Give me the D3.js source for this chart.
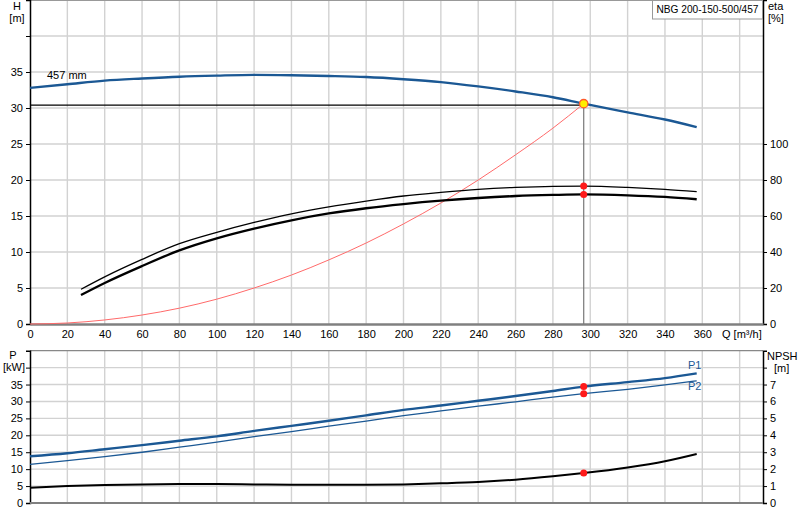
<!DOCTYPE html>
<html lang="en">
<head>
    <meta charset="UTF-8">
    <title>NBG 200-150-500/457</title>
    <script src="https://d3js.org/d3.v7.min.js"></script>
    <style>
        body{ margin:0; background:#fff; }
        text{ font-family: "Liberation Sans", Arial, sans-serif; font-size: 11px; fill:#000; }
        .grid line{ stroke:#d2d2d2; stroke-width:1.4; }
    </style>
</head>
<body>
<svg id="main" width="800" height="520"></svg>
<script>
    // pump curve data
    let qH = [0, 20, 40, 60, 80, 100, 120, 140, 160, 180, 200, 220, 240, 260, 280, 296.5, 320, 340, 357];
    let head = [32.8, 33.3, 33.8, 34.1, 34.35, 34.5, 34.6, 34.55, 34.45, 34.3, 34.0, 33.6, 33.0, 32.3, 31.5, 30.6, 29.4, 28.4, 27.35];

    let qSys = [0, 20, 40, 60, 80, 100, 120, 140, 160, 180, 200, 220, 240, 260, 280, 296.5];
    let sysHead = [0, 0.14, 0.56, 1.25, 2.2, 3.45, 5.0, 6.8, 8.9, 11.25, 13.9, 16.8, 20.0, 23.5, 27.2, 30.6];

    let qEta = [27.3, 40, 60, 80, 100, 120, 140, 160, 180, 200, 220, 240, 260, 280, 296.5, 320, 340, 357];
    let etaThin = [19.3, 26.2, 35.9, 44.6, 50.9, 56.4, 61.2, 65.1, 68.3, 71.1, 73.1, 74.8, 75.9, 76.5, 76.6, 75.9, 74.8, 73.5];
    let etaThick = [16.1, 22.8, 32.2, 40.9, 47.6, 53.0, 57.6, 61.4, 64.3, 66.6, 68.5, 70.0, 71.1, 71.7, 72.0, 71.5, 70.6, 69.3];

    let qLow = [0, 20, 40, 60, 80, 100, 120, 140, 160, 180, 200, 220, 240, 260, 280, 296.5, 320, 340, 357];
    let p1 = [13.8, 14.7, 15.9, 17.1, 18.4, 19.7, 21.3, 22.8, 24.3, 25.9, 27.5, 28.8, 30.2, 31.6, 33.1, 34.4, 35.7, 36.9, 38.3];
    let p2 = [11.4, 12.5, 13.7, 15.0, 16.5, 18.0, 19.6, 21.1, 22.7, 24.2, 25.8, 27.2, 28.6, 29.9, 31.3, 32.3, 33.6, 34.9, 36.1];
    let npsh = [0.9, 1.0, 1.06, 1.1, 1.12, 1.12, 1.1, 1.08, 1.08, 1.08, 1.1, 1.16, 1.24, 1.38, 1.58, 1.77, 2.1, 2.47, 2.9];

    let dutyQ = 296.5, dutyH = 30.6, dutyLineH = 30.4;
    let xTicks = d3.range(0, 361, 20);
    let hTicks = [0, 5, 10, 15, 20, 25, 30, 35];
    let etaTicks = [0, 20, 40, 60, 80, 100];
    let pTicks = [0, 5, 10, 15, 20, 25, 30, 35];
    let nTicks = [0, 1, 2, 3, 4, 5, 6, 7];

    let svg = d3.select('svg#main');
    let blue = '#1b5894';

    let x = d3.scaleLinear().domain([0, 392.5]).range([30, 763]);
    let yH = d3.scaleLinear().domain([0, 45]).range([324, 0]);
    let yEta = d3.scaleLinear().domain([0, 180]).range([324, 0]);
    let yP = d3.scaleLinear().domain([0, 45]).range([503, 350.7]);
    let yN = d3.scaleLinear().domain([0, 9]).range([503, 350.7]);

    // grids
    function grid(yScale, vals){
        let g = svg.append('g').attr('class', 'grid');
        g.selectAll('line.v').data(d3.range(20, 381, 20)).enter().append('line')
            .attr('x1', d => x(d)).attr('x2', d => x(d))
            .attr('y1', yScale.range()[0]).attr('y2', yScale.range()[1]);
        g.selectAll('line.h').data(vals).enter().append('line')
            .attr('x1', x.range()[0]).attr('x2', x.range()[1])
            .attr('y1', d => yScale(d)).attr('y2', d => yScale(d));
    }
    grid(yH, d3.range(5, 41, 5));
    grid(yP, d3.range(5, 41, 5));

    // frame lines
    svg.append('line').attr('x1', x(0)).attr('x2', x.range()[1]).attr('y1', yH(45) + 0.5).attr('y2', yH(45) + 0.5)
        .attr('stroke', '#999').attr('stroke-width', 1);
    svg.append('line').attr('x1', x(0)).attr('x2', x.range()[1]).attr('y1', yP(45)).attr('y2', yP(45))
        .attr('stroke', '#888').attr('stroke-width', 1.2);

    // axes
    let axH = d3.axisLeft(yH).tickValues(hTicks.concat([40])).tickSize(4).tickFormat(d => d < 40 ? d : '');
    let axEta = d3.axisRight(yEta).tickValues(etaTicks).tickSize(4);
    let axX = d3.axisBottom(x).tickValues(xTicks).tickSize(0).tickPadding(6);
    let axP = d3.axisLeft(yP).tickValues(pTicks.concat([40])).tickSize(4).tickFormat(d => d < 40 ? d : '');
    let axN = d3.axisRight(yN).tickValues(nTicks.concat([8])).tickSize(4).tickFormat(d => d < 8 ? d : '');

    function styleAxis(g){
        g.selectAll('text').style('font-family', '"Liberation Sans", Arial, sans-serif').style('font-size', '11px').attr('fill', '#000');
        g.selectAll('line').attr('stroke', '#000');
        g.select('.domain').attr('stroke', '#000').attr('stroke-width', 1.5);
    }
    svg.append('g').attr('transform', 'translate(' + x(0) + ',0)').call(axH).call(styleAxis);
    svg.append('g').attr('transform', 'translate(' + x.range()[1] + ',0)').call(axEta).call(styleAxis);
    svg.append('g').attr('transform', 'translate(0,' + yH(0) + ')').call(axX).call(styleAxis)
        .select('.domain').attr('stroke', '#808080').attr('stroke-width', 2.5);
    svg.append('g').attr('transform', 'translate(' + x(0) + ',0)').call(axP).call(styleAxis);
    svg.append('g').attr('transform', 'translate(' + x.range()[1] + ',0)').call(axN).call(styleAxis);
    svg.append('line').attr('x1', x(0)).attr('x2', x.range()[1]).attr('y1', yP(0)).attr('y2', yP(0))
        .attr('stroke', '#808080').attr('stroke-width', 2);

    // axis titles
    function label(tx, ty, s, anchor, color){
        return svg.append('text').attr('x', tx).attr('y', ty).attr('text-anchor', anchor || 'start')
            .attr('fill', color || '#000').style('fill', color || '#000').text(s);
    }
    label(17, 10, 'H', 'middle');
    label(17, 22, '[m]', 'middle');
    label(768, 10, 'eta');
    label(768, 22, '[%]');
    label(722, 338, 'Q [m³/h]');
    label(13, 359, 'P', 'middle');
    label(14, 371, '[kW]', 'middle');
    label(767, 360, 'NPSH');
    label(774, 372, '[m]');

    // legend box
    svg.append('rect').attr('x', 652.5).attr('y', 0.5).attr('width', 110).attr('height', 18.5)
        .attr('fill', '#fff').attr('stroke', '#999');
    label(707.5, 13, 'NBG 200-150-500/457', 'middle')
        .style('font-size', '10.5px').attr('textLength', 102).attr('lengthAdjust', 'spacingAndGlyphs');

    let line = (xs, ys, yScale) => d3.line().curve(d3.curveMonotoneX)
        .x((d, i) => x(xs[i])).y(d => yScale(d))(ys);

    // system curve
    svg.append('path').attr('d', line(qSys, sysHead, yH)).attr('fill', 'none')
        .attr('stroke', '#ff6a6a').attr('stroke-width', 1);

    // duty lines
    svg.append('line').attr('x1', x(0)).attr('x2', x(dutyQ)).attr('y1', yH(dutyLineH)).attr('y2', yH(dutyLineH))
        .attr('stroke', '#000').attr('stroke-width', 1.2);
    svg.append('line').attr('x1', x(dutyQ)).attr('x2', x(dutyQ)).attr('y1', yH(dutyH)).attr('y2', yH(0))
        .attr('stroke', '#777').attr('stroke-width', 1.2);

    // curves
    svg.append('path').attr('d', line(qH, head, yH)).attr('fill', 'none').attr('stroke', blue).attr('stroke-width', 2.4);
    svg.append('path').attr('d', line(qEta, etaThin, yEta)).attr('fill', 'none').attr('stroke', '#000').attr('stroke-width', 1.3);
    svg.append('path').attr('d', line(qEta, etaThick, yEta)).attr('fill', 'none').attr('stroke', '#000').attr('stroke-width', 2.3);
    svg.append('path').attr('d', line(qLow, p1, yP)).attr('fill', 'none').attr('stroke', blue).attr('stroke-width', 2.4);
    svg.append('path').attr('d', line(qLow, p2, yP)).attr('fill', 'none').attr('stroke', blue).attr('stroke-width', 1.3);
    svg.append('path').attr('d', line(qLow, npsh, yN)).attr('fill', 'none').attr('stroke', '#000').attr('stroke-width', 2);

    label(47, 79, '457 mm');
    label(688, 369, 'P1', 'start', blue);
    label(688, 390, 'P2', 'start', blue);

    // duty points
    let iDuty = qEta.indexOf(dutyQ);
    let jDuty = qLow.indexOf(dutyQ);
    let dots = [
        [yEta, etaThin[iDuty]], [yEta, etaThick[iDuty]],
        [yP, p1[jDuty]], [yP, p2[jDuty]], [yN, npsh[jDuty]]
    ];
    svg.selectAll('circle.duty').data(dots).enter().append('circle')
        .attr('cx', x(dutyQ)).attr('cy', d => d[0](d[1])).attr('r', 3.5).attr('fill', '#ff1a1a');
    svg.append('circle').attr('cx', x(dutyQ)).attr('cy', yH(dutyH)).attr('r', 4.2)
        .attr('fill', '#ffee00').attr('stroke', '#ff5a2a').attr('stroke-width', 1.3);
</script>
</body>
</html>
